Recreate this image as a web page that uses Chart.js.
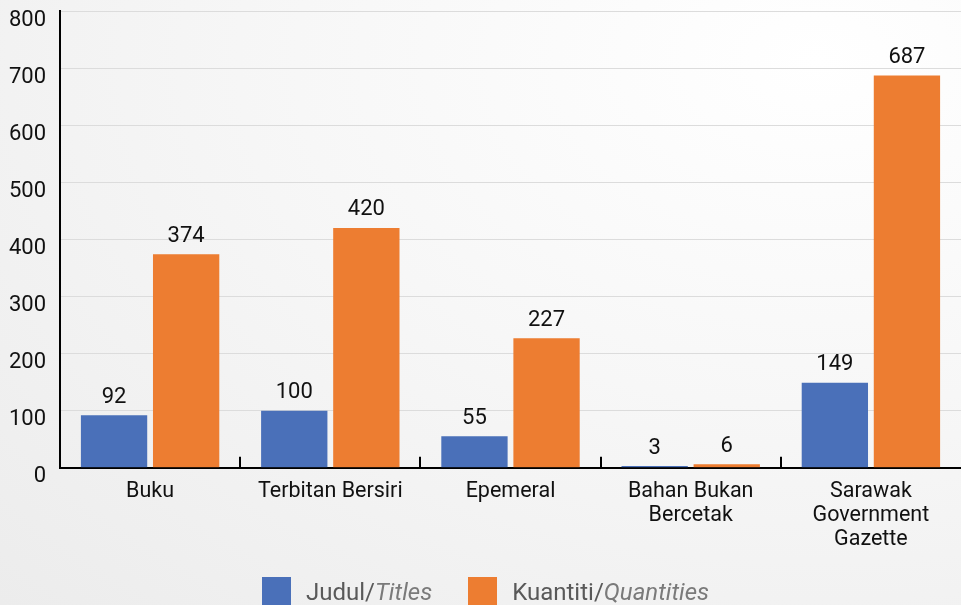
<!DOCTYPE html>
<html>
  <head>
    <title>Koleksi</title>
    <script src="https://cdn.jsdelivr.net/npm/chart.js"></script>
    <style>
      html, body { margin: 0; padding: 0; }
      body {
        width: 961px; height: 605px; overflow: hidden; position: relative;
        background: radial-gradient(ellipse at 85% 10%, #ffffff 0%, #f7f7f7 45%, #ececec 100%);
        font-family: Roboto, sans-serif;
      }
      .grafico { position: absolute; left: 0; top: 0; width: 961px; height: 605px; }
      .legenda { position: absolute; left: 262px; top: 577px; display: flex; align-items: center; font-size: 24px; color: #595959; }
      .legenda span.kotak { display: inline-block; width: 29px; height: 29px; margin-right: 15px; }
      .legenda .item { display: flex; align-items: center; margin-right: 36px; }
      .legenda i { color: #7a7a7a; }
    </style>
  </head>

  <body>
    <div class="grafico">
      <canvas id="koleksi" width="961" height="605"></canvas>
    </div>
    <div class="legenda" id="legenda"></div>

    <script>
      var kategori = ["Buku", "Terbitan Bersiri", "Epemeral", ["Bahan Bukan", "Bercetak"], ["Sarawak", "Government", "Gazette"]];
      var judul = [92, 100, 55, 3, 149];
      var kuantiti = [374, 420, 227, 6, 687];
      var legendaTeks = [["Judul/", "Titles"], ["Kuantiti/", "Quantities"]];
      var warna = ["#4a70b9", "#ed7d31"];

      // nilai di atas bar
      var labelNilai = {
        id: "labelNilai",
        afterDatasetsDraw(chart) {
          var ctx = chart.ctx;
          ctx.save();
          ctx.font = "22px Roboto";
          ctx.fillStyle = "#111";
          ctx.textAlign = "center";
          ctx.textBaseline = "bottom";
          chart.data.datasets.forEach((ds, i) => {
            chart.getDatasetMeta(i).data.forEach((bar, j) => {
              ctx.fillText(ds.data[j], bar.x, bar.y - 7);
            });
          });
          ctx.restore();
        },
      };

      // tanda kecil di paksi x (ke atas)
      var tandaPaksi = {
        id: "tandaPaksi",
        afterDraw(chart) {
          var x = chart.scales.x;
          var ctx = chart.ctx;
          var lebar = x.getPixelForValue(1) - x.getPixelForValue(0);
          ctx.save();
          ctx.strokeStyle = "#000";
          ctx.lineWidth = 2;
          for (var i = 1; i < kategori.length; i++) {
            var px = Math.round(x.getPixelForValue(i) - lebar / 2);
            ctx.beginPath();
            ctx.moveTo(px, chart.chartArea.bottom);
            ctx.lineTo(px, chart.chartArea.bottom - 11);
            ctx.stroke();
          }
          ctx.restore();
        },
      };

      var grafik = new Chart(document.getElementById("koleksi").getContext("2d"), {
        type: "bar",
        data: {
          labels: kategori,
          datasets: [
            { label: "Judul/Titles", data: judul, backgroundColor: warna[0] },
            { label: "Kuantiti/Quantities", data: kuantiti, backgroundColor: warna[1] },
          ],
        },
        options: {
          responsive: false,
          animation: false,
          layout: { padding: { top: 11, right: 0, left: 0, bottom: 49 } },
          datasets: { bar: { categoryPercentage: 0.8, barPercentage: 0.92 } },
          plugins: { legend: { display: false }, tooltip: { enabled: false } },
          scales: {
            x: {
              grid: { display: false },
              border: { color: "#000", width: 2 },
              ticks: { color: "#111", font: { family: "Roboto", size: 21.5, lineHeight: 1.12 }, maxRotation: 0, padding: 4 },
            },
            y: {
              min: 0,
              max: 800,
              afterFit(scale) {
                scale.width = 60;
                scale.paddingTop = 0;
                scale.paddingBottom = 0;
              },
              grid: { color: "#dcdcdc", drawTicks: false },
              border: { color: "#000", width: 2 },
              ticks: { stepSize: 100, color: "#111", font: { family: "Roboto", size: 22 }, padding: 14, labelOffset: 9 },
            },
          },
        },
        plugins: [labelNilai, tandaPaksi],
      });

      var legenda = document.getElementById("legenda");
      legendaTeks.forEach((t, i) => {
        var item = document.createElement("div");
        item.className = "item";
        item.innerHTML = '<span class="kotak" style="background:' + warna[i] + '"></span>' + t[0] + "<i>" + t[1] + "</i>";
        legenda.appendChild(item);
      });
    </script>
  </body>
</html>
